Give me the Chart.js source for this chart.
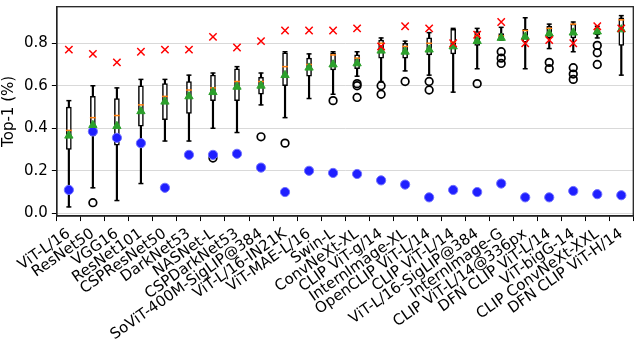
<!DOCTYPE html>
<html>
<head>
<meta charset="utf-8">
<script src="https://cdn.jsdelivr.net/npm/chart.js@4"></script>
<style>
  html, body { margin: 0; padding: 0; background: #fff; }
  #wrap { width: 640px; height: 348px; }
</style>
</head>
<body>
<div id="wrap"><canvas id="myChart"></canvas></div>
<script>
// Modelos
const models = ["ViT-L/16", "ResNet50", "VGG16", "ResNet101", "CSPResNet50", "DarkNet53", "NASNet-L",
  "CSPDarkNet53", "SoViT-400M-SigLIP@384", "ViT-L/16-IN21K", "ViT-MAE-L/16", "Swin-L", "ConvNeXt-XL",
  "CLIP ViT-g/14", "InternImage-XL", "OpenCLIP ViT-L/14", "CLIP ViT-L/14", "ViT-L/16-SigLIP@384",
  "InternImage-G", "CLIP ViT-L/14@336px", "DFN CLIP ViT-L/14", "ViT-bigG-14", "CLIP ConvNeXt-XXL",
  "DFN CLIP ViT-H/14"];

// Cajas (bigotes, cuartiles, mediana, media)
const whiskerLow  = [0.03, 0.12, 0.06, 0.14, 0.34, 0.34, 0.40, 0.38, 0.51, 0.45, 0.54, 0.56, 0.645, 0.62, 0.67, 0.65, 0.57, 0.68, 0.815, 0.68, 0.775, 0.76, 0.825, 0.65];
const q1          = [0.30, 0.365, 0.32, 0.41, 0.44, 0.47, 0.53, 0.53, 0.56, 0.60, 0.645, 0.675, 0.68, 0.73, 0.73, 0.745, 0.75, 0.79, 0.815, 0.805, 0.825, 0.825, 0.84, 0.79];
const median      = [0.39, 0.45, 0.46, 0.51, 0.55, 0.58, 0.59, 0.62, 0.62, 0.69, 0.70, 0.745, 0.73, 0.80, 0.785, 0.80, 0.805, 0.835, 0.835, 0.86, 0.87, 0.89, 0.865, 0.91];
const q3          = [0.50, 0.55, 0.54, 0.60, 0.61, 0.62, 0.65, 0.68, 0.64, 0.755, 0.73, 0.755, 0.745, 0.815, 0.80, 0.825, 0.865, 0.855, 0.845, 0.865, 0.88, 0.89, 0.87, 0.92];
const whiskerHigh = [0.53, 0.60, 0.59, 0.63, 0.63, 0.65, 0.66, 0.69, 0.66, 0.76, 0.75, 0.76, 0.76, 0.825, 0.81, 0.85, 0.87, 0.87, 0.875, 0.92, 0.89, 0.90, 0.88, 0.93];
const means       = [0.365, 0.415, 0.41, 0.48, 0.525, 0.55, 0.57, 0.595, 0.60, 0.65, 0.685, 0.70, 0.705, 0.765, 0.76, 0.77, 0.785, 0.81, 0.825, 0.83, 0.845, 0.85, 0.855, 0.865];

// Atipicos por modelo
const outliers = [[], [0.05], [], [], [], [], [0.26], [], [0.36], [0.33], [], [0.53],
  [0.61, 0.60, 0.545], [0.60, 0.56], [0.62], [0.62, 0.58], [], [0.61],
  [0.76, 0.73, 0.705], [], [0.71, 0.68], [0.685, 0.655, 0.63], [0.79, 0.755, 0.70], []];

// Marcadores rojos (x) y azules
const redX  = [0.77, 0.75, 0.71, 0.76, 0.77, 0.77, 0.83, 0.78, 0.81, 0.86, 0.86, 0.86, 0.87, 0.785, 0.88, 0.87, 0.80, 0.84, 0.90, 0.80, 0.815, 0.80, 0.88, 0.87];
const blue  = [0.11, 0.385, 0.355, 0.33, 0.12, 0.275, 0.275, 0.28, 0.215, 0.10, 0.20, 0.19, 0.185, 0.155, 0.135, 0.075, 0.11, 0.10, 0.14, 0.075, 0.075, 0.105, 0.09, 0.085];

const yTicks = [0, 0.2, 0.4, 0.6, 0.8];

let outlierPts = [];
outliers.forEach((list, i) => list.forEach(v => outlierPts.push({ x: models[i], y: v })));

const pts = (data, extra) => Object.assign({
  type: 'line', data: data, showLine: false, borderWidth: 1.5, clip: false
}, extra);

// Marco completo
const framePlugin = {
  id: 'frame',
  afterDraw(chart) {
    const a = chart.chartArea, c = chart.ctx;
    c.save();
    c.strokeStyle = '#222';
    c.lineWidth = 1.3;
    c.strokeRect(a.left, a.top, a.right - a.left, a.bottom - a.top);
    c.restore();
  }
};

let ctx = document.getElementById('myChart');
let chart = new Chart(ctx, {
  type: 'bar',
  data: {
    labels: models,
    datasets: [
      pts(redX, { pointStyle: 'crossRot', pointRadius: 5.2, borderColor: '#ff0000', pointBorderWidth: 1.5, order: 1 }),
      pts(means, { pointStyle: 'triangle', pointRadius: 4.8, backgroundColor: '#2ca02c', borderColor: '#2ca02c', pointBorderWidth: 1, order: 2 }),
      pts(median, { pointStyle: 'line', pointRadius: 3, borderColor: '#ff7f0e', pointBorderWidth: 1.5, order: 3 }),
      pts(blue, { pointStyle: 'circle', pointRadius: 4.6, backgroundColor: '#1f1fff', borderColor: '#7070ff', pointBorderWidth: 1, order: 2 }),
      pts(outlierPts, { pointStyle: 'circle', pointRadius: 3.8, backgroundColor: 'rgba(0,0,0,0)', borderColor: '#000', pointBorderWidth: 1.7, order: 4 }),
      pts(whiskerHigh, { pointStyle: 'line', pointRadius: 2.5, borderColor: '#000', pointBorderWidth: 1.5, order: 5 }),
      pts(whiskerLow, { pointStyle: 'line', pointRadius: 2.5, borderColor: '#000', pointBorderWidth: 1.5, order: 5 }),
      {
        data: models.map((m, i) => [q1[i], q3[i]]),
        backgroundColor: '#fff', borderColor: '#000', borderWidth: 1.5, borderSkipped: false,
        barThickness: 5, grouped: false, order: 6
      },
      {
        data: models.map((m, i) => [whiskerLow[i], whiskerHigh[i]]),
        backgroundColor: '#000', borderWidth: 0, barThickness: 1.5, grouped: false, order: 7
      }
    ]
  },
  options: {
    responsive: true,
    maintainAspectRatio: false,
    animation: false,
    layout: { padding: { left: 0, right: 2, top: 2, bottom: 0 } },
    plugins: { legend: { display: false }, tooltip: { enabled: false } },
    scales: {
      x: {
        offset: true,
        grid: { display: true, drawOnChartArea: false, tickLength: 5, color: '#000', tickColor: '#000' },
        border: { color: '#222', width: 1.3 },
        ticks: {
          color: '#000', font: { family: 'DejaVu Sans', size: 15 },
          minRotation: 35, maxRotation: 35, autoSkip: false, padding: 4
        }
      },
      y: {
        min: -0.013, max: 0.972,
        afterBuildTicks: axis => { axis.ticks = yTicks.map(v => ({ value: v })); },
        afterFit: axis => { axis.paddingTop = 0; axis.paddingBottom = 0; },
        grid: { color: '#d9d9d9', lineWidth: 1, tickLength: 5, tickColor: '#000' },
        border: { color: '#222', width: 1.3 },
        ticks: {
          color: '#000', font: { family: 'DejaVu Sans', size: 15 }, padding: 4,
          callback: v => v.toFixed(1)
        },
        title: { display: true, text: 'Top-1 (%)', color: '#000', font: { family: 'DejaVu Sans', size: 15 }, padding: { top: 0, bottom: 2 } }
      }
    }
  },
  plugins: [framePlugin]
});
</script>
</body>
</html>
